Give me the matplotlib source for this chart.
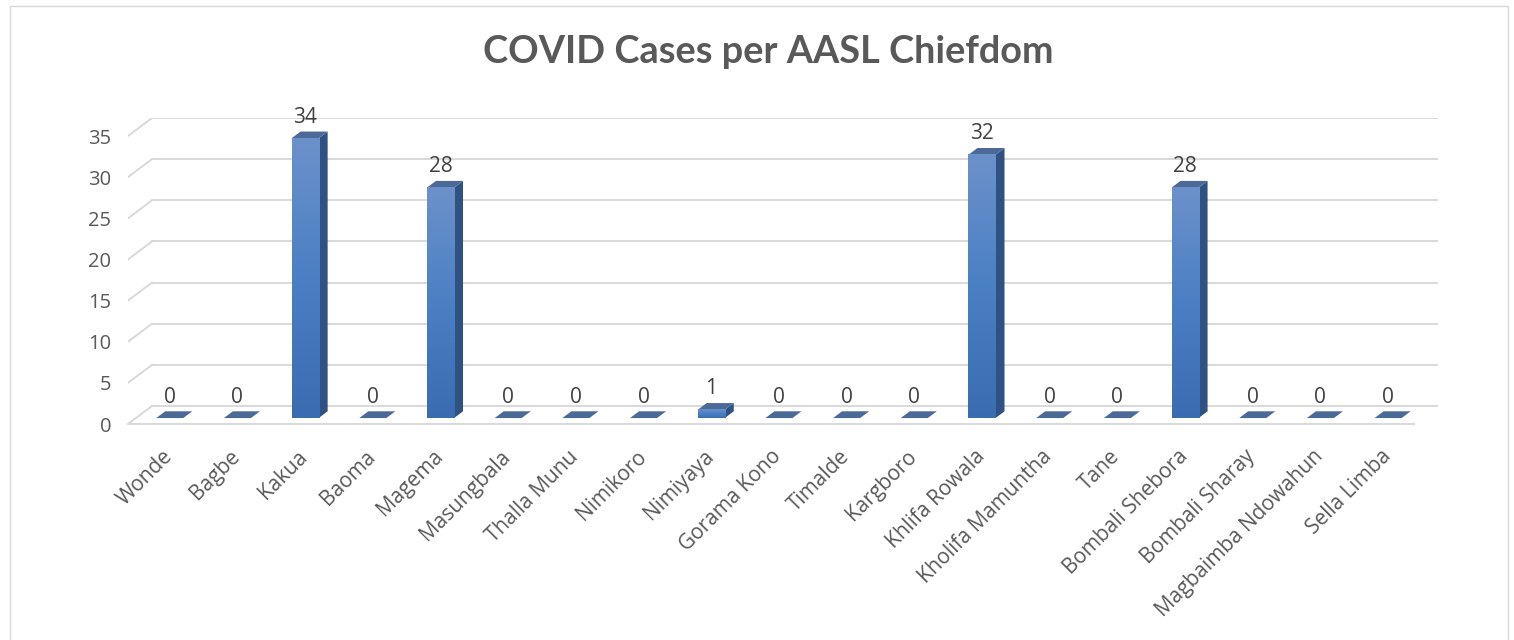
import numpy as np
import matplotlib.pyplot as plt
from matplotlib.patches import Polygon, Rectangle
from matplotlib.colors import LinearSegmentedColormap

chiefdoms = ["Wonde", "Bagbe", "Kakua", "Baoma", "Magema", "Masungbala", "Thalla Munu",
             "Nimikoro", "Nimiyaya", "Gorama Kono", "Timalde", "Kargboro", "Khlifa Rowala",
             "Kholifa Mamuntha", "Tane", "Bombali Shebora", "Bombali Sharay",
             "Magbaimba Ndowahun", "Sella Limba"]
cases = [0, 0, 34, 0, 28, 0, 0, 0, 1, 0, 0, 0, 32, 0, 0, 28, 0, 0, 0]
y_ticks = [0, 5, 10, 15, 20, 25, 30, 35]
title = "COVID Cases per AASL Chiefdom"

plt.rcParams['font.family'] = ['Open Sans', 'DejaVu Sans']
TXT = '#595959'
GRID = '#d9d9d9'

# fake 3d: floor depth in data units
D = 0.354   # depth along x (categories)
H = 2.19    # depth along y (values)
f0 = 0.33   # bar starts this far into the floor
bw = 0.40   # bar front width
bd = 0.375  # bar depth fraction

n = len(chiefdoms)
ymax = max(y_ticks)

fig = plt.figure(figsize=(15.14, 6.4), dpi=100)
fig.add_artist(Rectangle((10 / 1514, -0.05), (1508 - 10) / 1514, 1.05 - 6 / 640,
                         transform=fig.transFigure, fill=False, edgecolor=GRID, lw=1))

ax = fig.add_axes([128 / 1514, (640 - 424) / 640, (1438 - 128) / 1514, 306 / 640])
ax.set_xlim(-0.5, n - 0.5 + D)
ax.set_ylim(0, ymax + H)
for s in ax.spines.values():
    s.set_visible(False)

# gridlines: left diagonals + back wall
for v in y_ticks:
    ax.plot([-0.5, -0.5 + D], [v, v + H], color=GRID, lw=1.4, zorder=1)
    ax.plot([-0.5 + D, n - 0.5 + D], [v + H, v + H], color=GRID, lw=1.4, zorder=1)
ax.plot([-0.5, n - 0.5], [0, 0], color=GRID, lw=1.4, zorder=1, clip_on=False)

front = LinearSegmentedColormap.from_list('front', ['#3a6cb0', '#4a80c4', '#6c91ca'])
grad = np.linspace(0, 1, 256).reshape(-1, 1)

ox, oy = f0 * D, f0 * H
sx, sy = bd * D, bd * H
for i, v in enumerate(cases):
    x0 = i + ox - bw / 2
    x1 = i + ox + bw / 2
    y0 = oy
    y1 = v + oy
    # side face
    ax.add_patch(Polygon([(x1, y0), (x1 + sx, y0 + sy), (x1 + sx, y1 + sy), (x1, y1)],
                         closed=True, facecolor='#2f5283', edgecolor='none', zorder=3))
    # top face
    ax.add_patch(Polygon([(x0, y1), (x1, y1), (x1 + sx, y1 + sy), (x0 + sx, y1 + sy)],
                         closed=True, facecolor='#4c6a98', edgecolor='none', zorder=3))
    if v > 0:
        ax.imshow(grad, extent=[x0, x1, y0, y1], origin='lower', cmap=front,
                  aspect='auto', zorder=4, interpolation='bilinear')
    ax.annotate(str(v), (i + ox, y1), xytext=(0, 15), textcoords='offset points',
                ha='center', va='center', fontsize=15, color='#404040')

ax.set_xlim(-0.5, n - 0.5 + D)
ax.set_ylim(0, ymax + H)

ax.set_xticks(range(n))
ax.set_xticklabels(chiefdoms, rotation=45, ha='right', rotation_mode='anchor',
                   fontsize=15, color=TXT)
ax.set_yticks(y_ticks)
ax.set_yticklabels([str(t) for t in y_ticks], fontsize=14.5, color=TXT)
ax.tick_params(axis='x', length=0, pad=16)
ax.tick_params(axis='y', length=0, pad=12)

fig.text(768 / 1514, 1 - 52 / 640, title, ha='center', va='center',
         fontsize=27.3, fontweight='bold', color=TXT, family=['Lato', 'DejaVu Sans'])

fig.savefig('out.png', dpi=100)
